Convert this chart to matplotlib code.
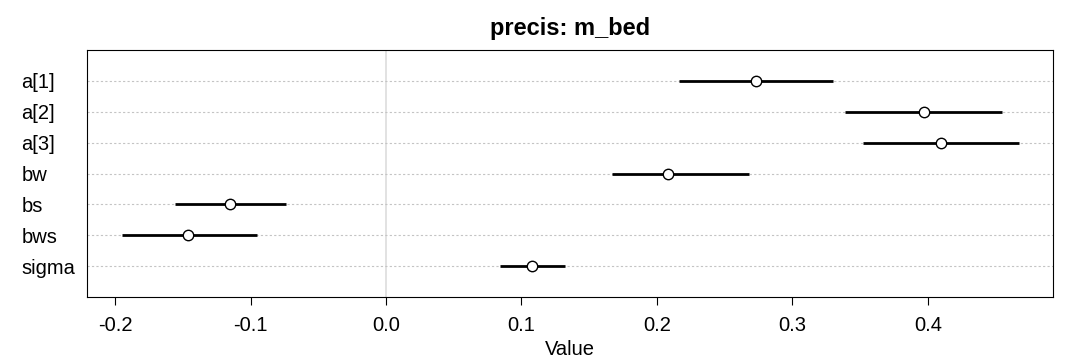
import matplotlib
matplotlib.use("Agg")
import matplotlib.pyplot as plt

# precis summary for m_bed (mean and 89% interval)
params = ["a[1]", "a[2]", "a[3]", "bw", "bs", "bws", "sigma"]
means = [0.273, 0.397, 0.410, 0.208, -0.115, -0.146, 0.108]
lower = [0.216, 0.339, 0.352, 0.167, -0.156, -0.195, 0.084]
upper = [0.330, 0.455, 0.467, 0.268, -0.074, -0.095, 0.132]
xticks = [-0.2, -0.1, 0.0, 0.1, 0.2, 0.3, 0.4]

plt.rcParams['font.family'] = ['Liberation Sans', 'DejaVu Sans']

fig = plt.figure(figsize=(10.8, 3.6), dpi=100)
ax = fig.add_axes([87 / 1080, 1 - 297 / 360, (1053 - 87) / 1080, (297 - 50) / 360])

n = len(params)
ys = list(range(n, 0, -1))

ax.axvline(0, color='#dddddd', lw=1.2, zorder=1)
for y in ys:
    ax.axhline(y, color='#c4c4c4', lw=0.8, ls=(0, (2, 2)), zorder=1)

for y, m, lo, hi in zip(ys, means, lower, upper):
    ax.plot([lo, hi], [y, y], color='black', lw=2, zorder=2, solid_capstyle='butt')
    ax.plot(m, y, 'o', mfc='white', mec='black', ms=7.5, mew=1, zorder=3)

ax.set_xlim(-0.2207, 0.4923)
ax.set_ylim(0, n + 1)
ax.set_yticks(ys)
ax.set_yticklabels(params, fontsize=14.5)
ax.tick_params(axis='y', length=0)
for lab in ax.get_yticklabels():
    lab.set_horizontalalignment('left')
    lab.set_x(-0.063)
ax.set_xticks(xticks)
ax.set_xticklabels([f"{t:.1f}" for t in xticks], fontsize=14.5)
ax.tick_params(axis='x', length=6, width=0.8, pad=8)
ax.set_xlabel("Value", fontsize=14.5, labelpad=3)
ax.set_title("precis: m_bed", fontsize=17, fontweight='bold', pad=11)
for s in ax.spines.values():
    s.set_linewidth(0.8)

fig.savefig("out.png", dpi=100)
